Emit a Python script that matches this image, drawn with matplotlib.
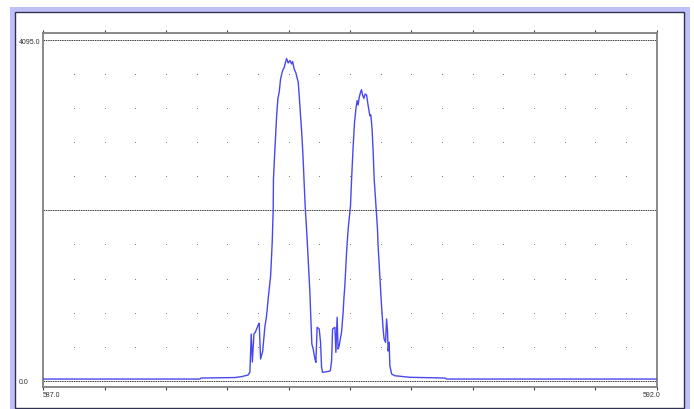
import numpy as np
import matplotlib
matplotlib.use("Agg")
import matplotlib.pyplot as plt
from matplotlib.patches import Rectangle

# === Spectrum trace (wavelength vs counts) ===
wavelength = [
    587.000, 588.277, 588.285, 588.562, 588.619, 588.670, 588.684, 588.695,
    588.704, 588.717, 588.729, 588.752, 588.760, 588.771, 588.788, 588.806,
    588.820, 588.833, 588.853, 588.866, 588.874, 588.876, 588.888, 588.902,
    588.912, 588.923, 588.934, 588.950, 588.964, 588.973, 588.983, 588.996,
    589.010, 589.024, 589.032, 589.045, 589.059, 589.078, 589.086, 589.097,
    589.108, 589.118, 589.126, 589.135, 589.146, 589.159, 589.173, 589.181,
    589.189, 589.200, 589.214, 589.222, 589.232, 589.249, 589.260, 589.268,
    589.276, 589.322, 589.340, 589.350, 589.358, 589.377, 589.385, 589.395,
    589.403, 589.412, 589.423, 589.431, 589.444, 589.450, 589.458, 589.472,
    589.485, 589.504, 589.513, 589.526, 589.537, 589.548, 589.558, 589.566,
    589.575, 589.586, 589.594, 589.602, 589.613, 589.623, 589.635, 589.648,
    589.662, 589.670, 589.680, 589.689, 589.697, 589.708, 589.716, 589.724,
    589.729, 589.743, 589.757, 589.770, 589.778, 589.790, 589.798, 589.806,
    589.811, 589.819, 589.825, 589.839, 589.865, 589.988, 590.273, 590.289,
    592.000,
]
counts = [
    20, 20, 32, 38, 50, 69, 105, 561,
    225, 561, 585, 670, 690, 261, 351, 645,
    781, 982, 1262, 1664, 2064, 2424, 2785, 3185,
    3388, 3470, 3626, 3726, 3767, 3819, 3873, 3819,
    3849, 3807, 3837, 3747, 3699, 3587, 3426, 3185,
    2945, 2665, 2385, 2088, 1823, 1463, 1063, 742,
    441, 381, 261, 221, 642, 621, 462, 165,
    101, 111, 120, 240, 621, 642, 341, 762,
    381, 421, 522, 582, 822, 982, 1142, 1543,
    1823, 2103, 2424, 2825, 3106, 3266, 3366, 3314,
    3407, 3467, 3498, 3434, 3394, 3446, 3434, 3306,
    3185, 3194, 3025, 2745, 2424, 2184, 2004, 1823,
    1623, 1262, 902, 621, 501, 462, 742, 597,
    357, 462, 180, 81, 60, 41, 32, 20,
    20,
]

x_min, x_max = 587.0, 592.0
y_full = 4095.0
ref_lines = [0.0, y_full / 2, y_full]
y_labels = ["0.0", "4095.0"]
x_labels = ["587.0", "592.0"]

W, H = 694, 410


def fx(px):
    return px / W


def fy(py):
    return 1 - py / H


fig = plt.figure(figsize=(W / 100, H / 100), dpi=100)
fig.patch.set_facecolor("white")

# lavender frame + white panel
fig.patches.append(Rectangle((fx(10), fy(410)), fx(680), 402 / H, transform=fig.transFigure,
                             facecolor="#c0c0f8", edgecolor="none", zorder=-2))
fig.patches.append(Rectangle((fx(15), fy(409)), fx(669), 396 / H, transform=fig.transFigure,
                             facecolor="white", edgecolor="#303050", linewidth=1.0, zorder=-1))

ax = fig.add_axes([fx(43.3), fy(387.7), fx(656.7 - 43.3), (387.7 - 34.3) / H])
ax.set_zorder(3)
ax.set_facecolor("none")
ax.set_xlim(x_min, x_max)
ax.set_ylim(-72, 4176)

for s in ax.spines.values():
    s.set_color("#808080")
    s.set_linewidth(1.3)

ax.set_xticks(np.arange(x_min, x_max + 0.01, 0.5))
ax.set_xticklabels([])
ax.set_yticks([])
ax.tick_params(axis="x", direction="out", length=2, width=0.8, color="#404040", top=True)

# dotted grid
gx = np.arange(x_min + 0.25, x_max, 0.25)
gy = [y_full * k / 10 for k in range(1, 10) if k != 5]
GX, GY = np.meshgrid(gx, gy)
ax.plot(GX.ravel(), GY.ravel(), linestyle="none", marker="s", markersize=0.7,
        markeredgewidth=0, color="#808080")

for yv in ref_lines:
    ax.axhline(yv, color="#404040", linewidth=0.7, dashes=(1.6, 0.8))

ax.plot(wavelength, counts, color="#4848f0", linewidth=1.0, zorder=5)

txt = dict(fontsize=5, color="#303030", family="Liberation Sans")
fig.text(fx(19), fy(42), y_labels[1], ha="left", va="center", **txt)
fig.text(fx(19), fy(382.5), y_labels[0], ha="left", va="center", **txt)
fig.text(fx(43), fy(396), x_labels[0], ha="left", va="center", **txt)
fig.text(fx(643), fy(396), x_labels[1], ha="left", va="center", **txt)

fig.savefig("out.png", dpi=100)
